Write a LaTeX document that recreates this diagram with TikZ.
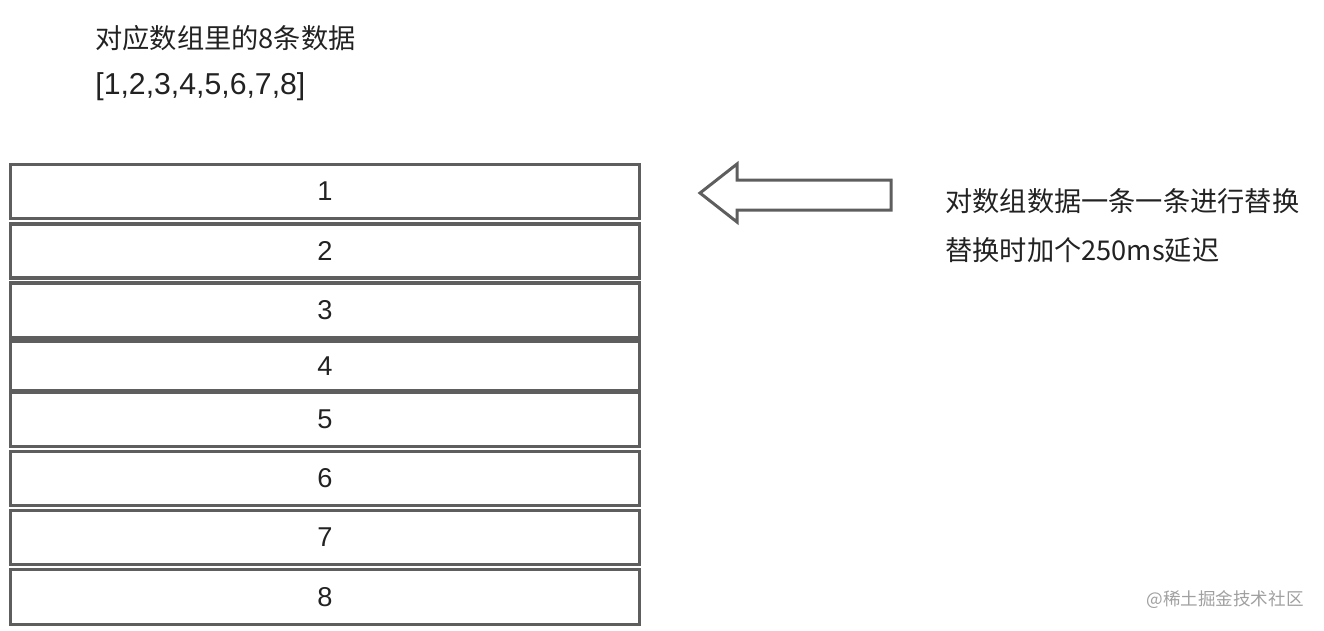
\documentclass[tikz,border=0pt]{standalone}
\usepackage{fontspec}
\setmainfont{Noto Sans CJK SC}
\newfontfamily\latinsans{Liberation Sans}
\usepackage{xcolor}
\usepackage{tikz}
\definecolor{boxgray}{HTML}{5E5E5E}
\definecolor{inkgray}{HTML}{222222}
\definecolor{markgray}{HTML}{A0A0A0}
\tikzset{
  cell/.style={shape=rectangle, draw=boxgray, line width=1.8pt, minimum width=12.58cm, minimum height=1.08cm, inner sep=0pt, text=inkgray, font=\latinsans\fontsize{15.5}{18}\selectfont},
  note/.style={anchor=west, inner sep=0pt, text=inkgray, font=\fontsize{15.5}{18}\selectfont}
}
\begin{document}
\begin{tikzpicture}[x=0.02cm, y=-0.02cm]
\useasboundingbox (0,0) rectangle (1324,630);
\node at (95, 38) [note] (title) {对应数组里的8条数据};
\node at (95, 87) [note, font=\latinsans\fontsize{17.2}{20}\selectfont] (data) {[1,2,3,4,5,6,7,8]};
\node at (325, 191.5) [cell] (c1) {1};
\node at (325, 251) [cell] (c2) {2};
\node at (325, 310.5) [cell, minimum height=1.1cm] (c3) {3};
\node at (325, 366) [cell, minimum height=0.98cm] (c4) {4};
\node at (325, 419.5) [cell] (c5) {5};
\node at (325, 478.5) [cell] (c6) {6};
\node at (325, 537.5) [cell] (c7) {7};
\node at (325, 597) [cell, minimum height=1.1cm] (c8) {8};
% block arrow pointing at the rows
\draw [draw=boxgray, line width=1.7pt, line join=miter] (700,193) -- (737,164) -- (737,180) -- (891,180) -- (891,210) -- (737,210) -- (737,222) -- cycle;
\node at (945, 201) [note] (step1) {对数组数据一条一条进行替换};
\node at (945, 250) [note] (step2) {替换时加个250ms延迟};
\node at (1225, 600) [text=markgray, font=\fontsize{10}{12}\selectfont] (mark) {@稀土掘金技术社区};
\end{tikzpicture}
\end{document}
